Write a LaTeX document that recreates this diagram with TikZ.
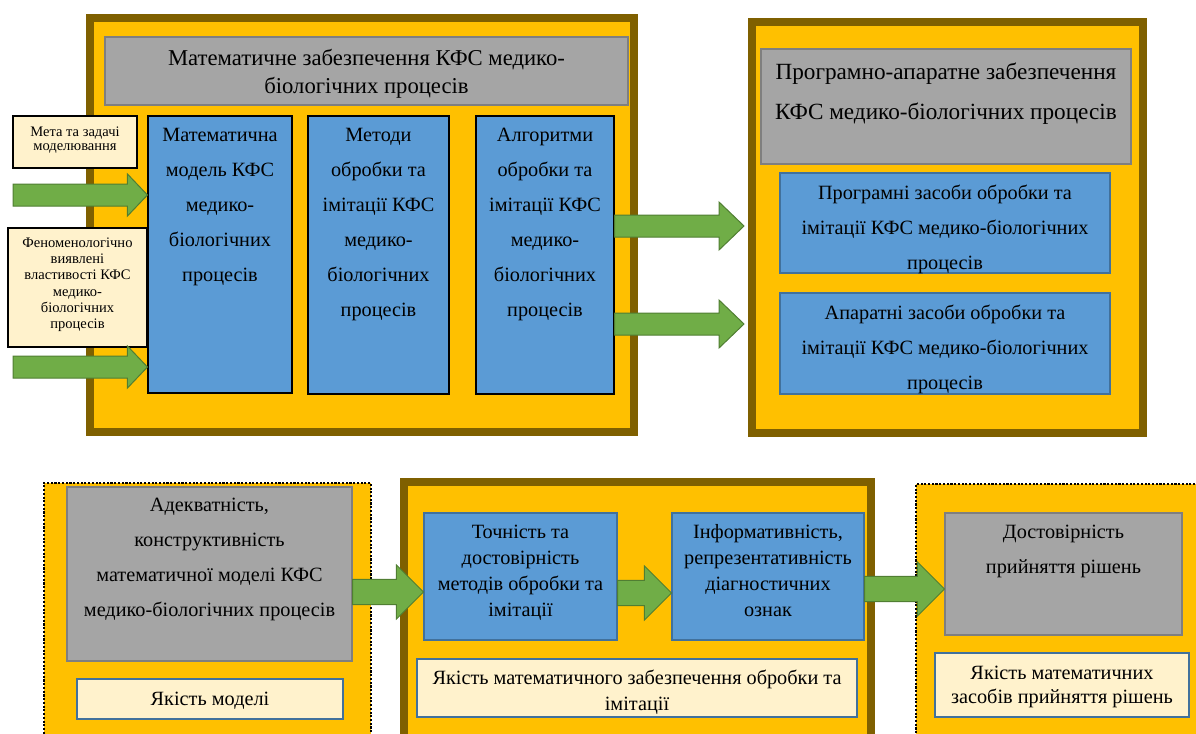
\documentclass[tikz,border=0pt]{standalone}
\usepackage{fontspec}
\setmainfont{Liberation Serif}
\usepackage{tikz}
\usetikzlibrary{calc,positioning,fit}

\definecolor{gold}{HTML}{FFC000}
\definecolor{goldframe}{HTML}{7F6000}
\definecolor{boxgray}{HTML}{A5A5A5}
\definecolor{grayframe}{HTML}{7F7F7F}
\definecolor{boxblue}{HTML}{5B9BD5}
\definecolor{blueframe}{HTML}{41719C}
\definecolor{cream}{HTML}{FFF2CC}
\definecolor{arrowgreen}{HTML}{70AD47}
\definecolor{arrowframe}{HTML}{507E32}

\newcommand\bigsize{\fontsize{15.2}{26.25}\selectfont}
\newcommand\midsize{\fontsize{15.2}{19.5}\selectfont}
\newcommand\headsize{\fontsize{17}{21}\selectfont}
\newcommand\rheadsize{\fontsize{17.4}{30}\selectfont}

\tikzset{
  panel/.style={fill=gold, draw=goldframe, line width=6pt, inner sep=0pt},
  dotpanel/.style={fill=gold, draw=black, line width=1.6pt, dash pattern=on 1.6pt off 1.2pt, inner sep=0pt},
  graybox/.style={fill=boxgray, draw=grayframe, line width=0.8pt, inner sep=0pt},
  bluebox/.style={fill=boxblue, draw=#1, line width=0.8pt, inner sep=0pt},
  bluebox/.default=black,
  creambox/.style={fill=cream, draw=#1, line width=0.8pt, inner sep=0pt},
  creambox/.default=black,
  txt/.style={inner sep=0pt, align=center, font=#1},
  txt/.default=\bigsize,
  fat/.style n args={3}{draw=arrowframe, fill=arrowgreen, line width=0.75pt, line join=miter,
    to path={let \p1=(\tikztostart), \p2=(\tikztotarget) in
      (\x1,\y1+#1) -- (\x2-#3,\y1+#1) -- (\x2-#3,\y1+#2) -- (\x2,\y1)
      -- (\x2-#3,\y1-#2) -- (\x2-#3,\y1-#1) -- (\x1,\y1-#1) -- cycle}}
}

\begin{document}
\begin{tikzpicture}[x=0.75pt,y=-0.75pt]
\useasboundingbox (0,0) rectangle (1196,733);
\clip (0,0) rectangle (1196,733);

% panels
\node[panel, fit={(90,18) (634,432)}] (tp) {};
\node[panel, fit={(752,22) (1143,433)}] (rp) {};
\node[dotpanel, fit={(44,483) (371,760)}] (ap) {};
\node[panel, fit={(404,482) (871,760)}] (bp) {};
\node[dotpanel, fit={(916,484) (1220,760)}] (cp) {};

% mathematical support
\node[graybox, fit={(105,37) (628,105)}] (hd1) {};
\node[txt=\headsize, below=9.5pt of hd1.north] (hd1t) {Математичне забезпечення КФС медико-\\біологічних процесів};
\node[bluebox, fit={(148,116) (292,393)}] (c1) {};
\node[txt, below=9pt of c1.north] (c1t) {Математична\\модель КФС\\медико-\\біологічних\\процесів};
\node[bluebox, fit={(308,116) (449,394)}] (c2) {};
\node[txt, below=9pt of c2.north] (c2t) {Методи\\обробки та\\імітації КФС\\медико-\\біологічних\\процесів};
\node[bluebox, fit={(476,116) (614,394)}] (c3) {};
\node[txt, below=9pt of c3.north] (c3t) {Алгоритми\\обробки та\\імітації КФС\\медико-\\біологічних\\процесів};

% inputs
\node[creambox, fit={(13,116) (137,168)}] (goal) {};
\node[txt=\fontsize{10.9}{10.9}\selectfont, below=8pt of goal.north] (goalt) {Мета та задачі\\моделювання};
\node[creambox, fit={(8,228) (147,347)}] (phen) {};
\node[txt=\fontsize{10.9}{12.2}\selectfont, below=7.5pt of phen.north] (phent) {Феноменологічно\\виявлені\\властивості КФС\\медико-\\біологічних\\процесів};
\coordinate (in1) at (13,195);
\coordinate (in2) at (13,367);

% hardware and software
\node[graybox, fit={(761,49) (1131,164)}] (hd2) {};
\node[txt=\rheadsize, below=10.5pt of hd2.north] (hd2t) {Програмно-апаратне забезпечення\\КФС медико-біологічних процесів};
\node[bluebox=blueframe, fit={(780,173) (1110,273)}] (sw) {};
\node[txt, below=9pt of sw.north] (swt) {Програмні засоби обробки та\\імітації КФС медико-біологічних\\процесів};
\node[bluebox=blueframe, fit={(780,293) (1110,394)}] (hw) {};
\node[txt, below=9pt of hw.north] (hwt) {Апаратні засоби обробки та\\імітації КФС медико-біологічних\\процесів};

% quality of the model
\node[graybox, fit={(67,487) (352,661)}] (ga) {};
\node[txt, below=8.25pt of ga.north] (gat) {Адекватність,\\конструктивність\\математичної моделі КФС\\медико-біологічних процесів};
\node[creambox=blueframe, fit={(77,679) (343,719)}] (qa) {};
\node[txt, below=9.75pt of qa.north] (qat) {Якість моделі};

% quality of processing
\node[bluebox=blueframe, fit={(424,513) (617,640)}] (b1) {};
\node[txt=\midsize, below=9pt of b1.north] (b1t) {Точність та\\достовірність\\методів обробки та\\імітації};
\node[bluebox=blueframe, fit={(672,513) (864,640)}] (b2) {};
\node[txt=\midsize, below=9pt of b2.north] (b2t) {Інформативність,\\репрезентативність\\діагностичних\\ознак};
\node[creambox=blueframe, fit={(417,659) (857,717)}] (qb) {};
\node[txt=\midsize, below=8.25pt of qb.north] (qbt) {Якість математичного забезпечення обробки та\\імітації};

% quality of decisions
\node[graybox, fit={(945,513) (1182,635)}] (gc) {};
\node[txt, below=9pt of gc.north] (gct) {Достовірність\\прийняття рішень};
\node[creambox=blueframe, fit={(935,653) (1189,717)}] (qc) {};
\node[txt=\fontsize{15.2}{18}\selectfont, below=9.75pt of qc.north] (qct) {Якість математичних\\засобів прийняття рішень};

% arrows
\draw[fat={8.25pt}{15.75pt}{15pt}] (in1) to (c1.west |- in1);
\draw[fat={8.25pt}{15.75pt}{15pt}] (in2) to (c1.west |- in2);
\draw[fat={8.25pt}{18pt}{18.75pt}] (c3.east |- 0,226) to ([xshift=-3pt]rp.west |- 0,226);
\draw[fat={8.25pt}{18pt}{18.75pt}] (c3.east |- 0,324) to ([xshift=-3pt]rp.west |- 0,324);
\draw[fat={9.4pt}{20.25pt}{20.25pt}] (ga.east |- 0,592) to (b1.west |- 0,592);
\draw[fat={9.4pt}{20.25pt}{20.25pt}] (b1.east |- 0,593) to (b2.west |- 0,593);
\draw[fat={9.4pt}{20.25pt}{20.25pt}] (b2.east |- 0,589) to (gc.west |- 0,589);
\end{tikzpicture}
\end{document}
